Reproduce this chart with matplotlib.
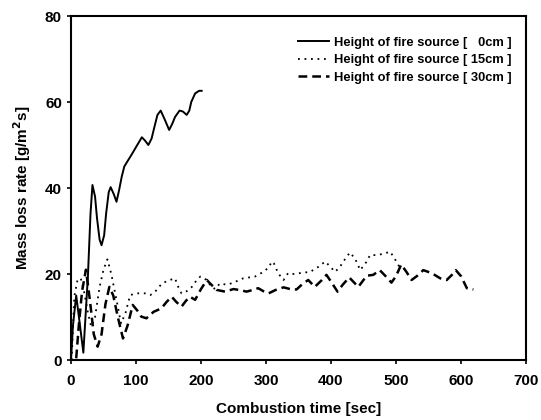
import matplotlib
matplotlib.use("Agg")
import matplotlib.pyplot as plt

plt.rcParams['font.family'] = ['Liberation Sans', 'DejaVu Sans']
plt.rcParams['font.weight'] = 'bold'

# 0 cm
t0 = [0, 3, 8, 13, 19, 26, 30, 33, 37, 40, 44, 47, 51, 54, 58, 61, 66, 70, 74, 78, 82, 86, 93, 100, 109, 114, 119, 124, 128, 133, 138,
      144, 151, 156, 160, 167, 172, 178, 182, 185, 191, 197, 201]
v0 = [0, 8, 15, 9, 1.7, 19.4, 34, 40.7, 38, 33, 28, 26.7, 29, 34, 39, 40.2, 38.5, 36.8, 39.5, 42.6, 45, 46, 47.7, 49.5, 51.8, 51, 50,
      51.5, 54, 57, 58, 56, 53.5, 55, 56.5, 58, 57.8, 57, 58, 60, 62, 62.6, 62.6]

# 15 cm
t15 = [1, 5, 10, 15, 20, 26, 31, 37, 44, 50, 56, 62, 69, 77, 84, 91, 101, 114, 122, 130, 140, 150, 160, 165, 170, 178, 186, 193, 199,
       209, 216, 222, 229, 240, 250, 265, 283, 296, 304, 309, 312, 319, 327, 334, 343, 352, 368, 381, 391, 399, 406, 413, 419,
       429, 437, 445, 455, 460, 470, 481, 491, 499, 505]
v15 = [0, 14.7, 18.6, 19, 16, 11, 7.8, 10, 17, 21, 23.4, 20, 14.7, 8.5, 11, 15.1, 15.5, 15.5, 15.1, 16, 17.8, 18.5, 19, 17, 15.5, 16, 17,
       18.5, 19.4, 18.6, 17, 16.5, 17.8, 17.5, 18, 19, 19.4, 20.5, 21.5, 22.9, 22.5, 20.1, 18.6, 20.2, 20, 20.2, 20.5, 21.7, 22.9,
       21.7, 20.5, 21.5, 22.9, 25, 23.6, 20.9, 22.9, 24.4, 24.4, 24.7, 25.2, 23.3, 21.7]

# 30 cm
t30 = [8, 12, 17, 23, 29, 35, 41, 47, 53, 59, 65, 72, 80, 87, 95, 102, 108, 116, 127, 139, 147, 155, 162, 170, 177, 183, 191, 200,
       209, 216, 224, 237, 250, 262, 270, 280, 288, 296, 304, 315, 327, 337, 347, 357, 365, 375, 386, 393, 401, 410, 418, 428,
       442, 455, 465, 475, 484, 493, 500, 508, 516, 524, 532, 542, 555, 568, 578, 586, 592, 600, 609, 619]
v30 = [0.4, 8, 16, 21, 14, 6, 3.1, 6, 13, 17, 15, 10, 5, 8, 12.8, 11.5, 10.1, 9.7, 11.2, 12, 13.5, 14.7, 13.5, 12.4, 13.8, 14.7, 14,
       16.5, 18.6, 17.5, 16.3, 15.9, 16.5, 16.2, 15.9, 16.3, 16.7, 16, 15.5, 16.3, 16.9, 16.5, 16.4, 17.8, 18.6, 17, 18.6, 19.8,
       18, 15.9, 17.5, 19.2, 17, 19.6, 19.8, 20.9, 19.5, 18, 19.5, 22.2, 20.5, 18.6, 19.5, 20.9, 20.2, 19, 18.6, 19.8, 20.9, 19.5,
       16.7, 16.4]

labels = ['Height of fire source [   0cm ]', 'Height of fire source [ 15cm ]', 'Height of fire source [ 30cm ]']
xticks = [0, 100, 200, 300, 400, 500, 600, 700]
yticks = [0, 20, 40, 60, 80]

fig = plt.figure(figsize=(5.41, 4.2), dpi=100)
ax = fig.add_axes([71/541, 60/420, 455/541, 344/420])

ax.plot(t0, v0, color='black', lw=1.4, label=labels[0], solid_joinstyle='round')
ax.plot(t15, v15, color='black', lw=1.3, linestyle=(0, (1, 2.6)), label=labels[1])
ax.plot(t30, v30, color='black', lw=1.8, linestyle=(0, (3.5, 2)), label=labels[2])

ax.set_xlim(0, 700)
ax.set_ylim(0, 80)
ax.set_xticks(xticks)
ax.set_yticks(yticks)
ax.tick_params(direction='out', length=3, width=1.2, labelsize=11)
ax.tick_params(axis='x', pad=7)
ax.tick_params(axis='y', pad=3.5)
for s in ax.spines.values():
    s.set_linewidth(1.5)
for lab in ax.get_xticklabels() + ax.get_yticklabels():
    lab.set_fontweight('bold')

ax.set_xlabel('Combustion time [sec]', fontsize=11, fontweight='bold', labelpad=10.5)
ax.set_ylabel('Mass loss rate [g/m$^\\mathbf{2}$s]', fontsize=11, fontweight='bold', labelpad=8.5)

leg = ax.legend(loc='upper right', frameon=False, handlelength=2.4,
                handletextpad=0.4, labelspacing=0.42, borderaxespad=0,
                bbox_to_anchor=(0.980, 0.955),
                prop={'weight': 'bold', 'size': 9.3})

fig.savefig('out.png', dpi=100)
